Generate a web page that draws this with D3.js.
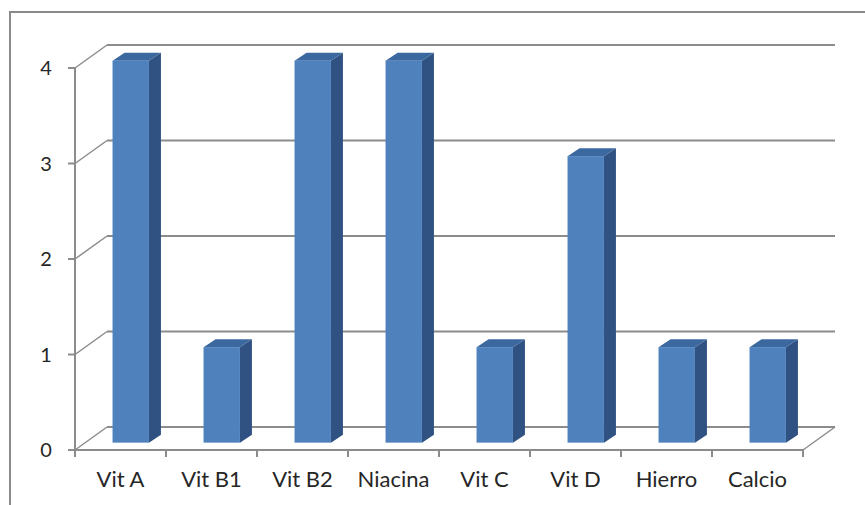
<!DOCTYPE html>
<html><head><meta charset="utf-8">
<script src="https://cdn.jsdelivr.net/npm/d3@7"></script>
<style>html,body{margin:0;padding:0;background:#fff;}svg{display:block;}</style>
</head><body>
<script>
const categories = ["Vit A","Vit B1","Vit B2","Niacina","Vit C","Vit D","Hierro","Calcio"];
const values = [4,1,4,4,1,3,1,1];
const yTicks = [0,1,2,3,4];

const W = 865, H = 505;
const DX = 32, DY = -23;          // back wall offset
const f = 0.32;                   // bar depth position
const bDX = 12, bDY = -8;         // bar depth
const gridColor = "#8c8c8c";

const svg = d3.select("body").append("svg").attr("width", W).attr("height", H);

const x = d3.scaleBand().domain(categories).range([75, 803]);
const y = d3.scaleLinear().domain([0, 4]).range([450, 68]);

// outer border
svg.append("path").attr("d", `M10,${H}L10,12L${W},12`).attr("fill","none")
  .attr("stroke","#8a8a8a").attr("stroke-width",2);

// back wall gridlines and side wall diagonals
yTicks.forEach(v => {
  svg.append("line").attr("x1", 75 + DX).attr("x2", 803 + DX)
    .attr("y1", y(v) + DY).attr("y2", y(v) + DY)
    .attr("stroke", gridColor).attr("stroke-width", 2);
  svg.append("line").attr("x1", 75).attr("x2", 75 + DX)
    .attr("y1", y(v)).attr("y2", y(v) + DY)
    .attr("stroke", gridColor).attr("stroke-width", 1.5);
});
// floor right edge
svg.append("line").attr("x1", 803).attr("x2", 803 + DX).attr("y1", y(0)).attr("y2", y(0) + DY)
  .attr("stroke", gridColor).attr("stroke-width", 1.5);
// floor front edge
svg.append("line").attr("x1", 75).attr("x2", 803).attr("y1", y(0)).attr("y2", y(0))
  .attr("stroke", gridColor).attr("stroke-width", 2);
// y axis
svg.append("line").attr("x1", 75).attr("x2", 75).attr("y1", y(0)).attr("y2", y(4))
  .attr("stroke", gridColor).attr("stroke-width", 2);
yTicks.forEach(v => {
  svg.append("line").attr("x1", 68).attr("x2", 75).attr("y1", y(v)).attr("y2", y(v))
    .attr("stroke", gridColor).attr("stroke-width", 2);
  svg.append("text").attr("x", 46).attr("y", y(v)).attr("dy", "0.36em")
    .attr("text-anchor", "middle").attr("font-family", "Lato, sans-serif")
    .attr("font-size", 20).attr("fill", "#262626").text(v);
});
// x ticks
categories.concat(["_end"]).forEach((c, i) => {
  const xx = 75 + i * x.bandwidth();
  svg.append("line").attr("x1", xx).attr("x2", xx).attr("y1", 450).attr("y2", 457)
    .attr("stroke", gridColor).attr("stroke-width", 2);
});

// bars
const bw = x.bandwidth() * 0.4;
const sx = DX * f, sy = DY * f;
categories.forEach((c, i) => {
  const v = values[i];
  const x0 = x(c) + (x.bandwidth() - bw) / 2 + sx;
  const x1 = x0 + bw;
  const yb = y(0) + sy, yt = y(v) + sy;
  const g = svg.append("g");
  // side
  g.append("path").attr("d", `M${x1},${yb}L${x1+bDX},${yb+bDY}L${x1+bDX},${yt+bDY}L${x1},${yt}Z`)
    .attr("fill", "#2f5282");
  // top
  g.append("path").attr("d", `M${x0},${yt}L${x0+bDX},${yt+bDY}L${x1+bDX},${yt+bDY}L${x1},${yt}Z`)
    .attr("fill", "#3c68a0");
  // front
  g.append("rect").attr("x", x0).attr("y", yt).attr("width", bw).attr("height", yb - yt)
    .attr("fill", "#4f81bd");
  // label
  svg.append("text").attr("x", x(c) + x.bandwidth() / 2).attr("y", 487)
    .attr("text-anchor", "middle").attr("font-family", "Lato, sans-serif")
    .attr("font-size", 22).attr("fill", "#262626").text(c);
});
</script>
</body></html>
